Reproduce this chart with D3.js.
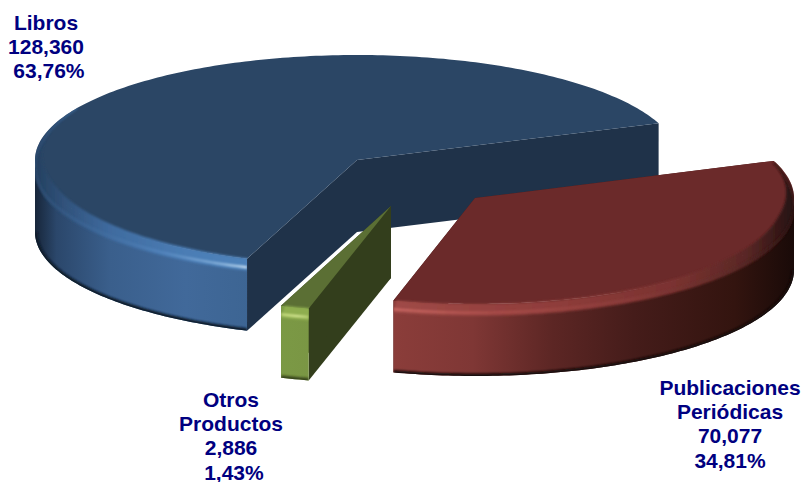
<!DOCTYPE html>
<html>
<head>
<meta charset="utf-8">
<script src="https://cdn.jsdelivr.net/npm/d3@7"></script>
<style>
  html, body { margin: 0; background: #fff; overflow: hidden; }
  text { font-family: "Liberation Sans", Arial, sans-serif; font-weight: bold; font-size: 21px; fill: #000080; white-space: pre; }
</style>
</head>
<body>
<svg id="chart" width="804" height="482"></svg>
<script>
// data, in drawing order round the pie (clockwise from the cut at the right)
const categories = ["Publicaciones Periódicas", "Otros Productos", "Libros"];
const values = [70077, 2886, 128360];
const percents = ["34,81%", " 1,43%", " 63,76%"];
const nameLines = [["Publicaciones", "Periódicas"], ["Otros", "Productos"], ["Libros"]];

const width = 804, height = 482;
const rad = d3.scaleLinear().domain([0, 180]).range([0, Math.PI]);
const depth = 72, lip = 12, inset = 11;

// where each exploded slice sits and how it is shaded
const layout = {
    "Libros": {
        cx: 357, cy: 160, rx: 322, ry: 105, order: 0,
        face: "#2b4665", cut: "#1f3249", dark: "#0e1a2a",
        x1: 35, x2: 250,
        wall: [[0, "#17263a"], [0.1, "#2b476b"], [0.35, "#3a5f8c"], [0.7, "#41699a"], [1, "#3d6593"]],
        band: [[0, "#24405f"], [0.12, "#2f5078"], [0.35, "#3f6b9f"], [0.7, "#4b7db5"], [1, "#4f83bb"]],
        shine: [[0, "#2c4b70"], [0.2, "#3a6291"], [0.6, "#5486bf"], [0.87, "#8db7df"], [1, "#dcecf8"]],
        label: { x: 46, y: 30 }
    },
    "Publicaciones Periódicas": {
        cx: 475, cy: 198, rx: 319, ry: 106, order: 1,
        face: "#6b2a2a", cut: "#4a1d1b", dark: "#150807",
        x1: 392, x2: 795,
        wall: [[0, "#8b3d3a"], [0.2, "#7f3735"], [0.4, "#5c2624"], [0.6, "#451c1a"], [0.85, "#33140f"], [1, "#190a08"]],
        band: [[0, "#a04a47"], [0.4, "#8f3d3b"], [0.7, "#7a3230"], [0.88, "#592725"], [1, "#241010"]],
        shine: [[0, "#cf6b66"], [0.25, "#ad4f4b"], [0.6, "#8a3c3a"], [0.85, "#5a2a28"], [1, "#2e1412"]],
        label: { x: 730, y: 395 }
    },
    "Otros Productos": {
        cx: 391, cy: 206, rx: 322, ry: 106, order: 2,
        face: "#5b6f34", cut: "#333e1c", dark: "#38451c",
        x1: 279, x2: 312,
        wall: [[0, "#7b9945"], [1, "#7a9644"]],
        band: [[0, "#8fae50"], [1, "#8fae50"]],
        shine: [[0, "#c4da78"], [0.6, "#dbeb9a"], [1, "#a9c463"]],
        label: { x: 231, y: 407 }
    }
};

// the lip round the front fades out towards the back of the pie
const lipAt = d3.scaleLinear().domain([60, 100, 255, 300]).range([0, 1, 1, 0]).clamp(true);

const pie = d3.pie().sort(null).value(d => d.value)
    .startAngle(rad(69.5)).endAngle(rad(429.5));
const slices = pie(categories.map((name, i) => ({ name, value: values[i], i })));

const svg = d3.select("#chart");
const defs = svg.append("defs");
const line = d3.line();

function addBlur(id, sd) {
    defs.append("filter").attr("id", id)
        .attr("filterUnits", "userSpaceOnUse")
        .attr("x", 0).attr("y", 0).attr("width", width).attr("height", height)
        .append("feGaussianBlur").attr("stdDeviation", sd);
}
addBlur("soft", 1.3);
addBlur("softer", 1);

function addGradient(id, x1, x2, stops) {
    const g = defs.append("linearGradient").attr("id", id)
        .attr("gradientUnits", "userSpaceOnUse")
        .attr("x1", x1).attr("x2", x2).attr("y1", 0).attr("y2", 0);
    g.selectAll("stop").data(stops).join("stop")
        .attr("offset", d => d[0]).attr("stop-color", d => d[1]);
}

function point(s, a, shrink = 0, dz = 0) {
    return [s.cx + (s.rx - shrink) * Math.sin(a), s.cy - s.ry * Math.cos(a) + dz];
}

function sweep(a0, a1) {
    const n = Math.max(2, Math.ceil(Math.abs(a1 - a0) / rad(1)));
    return d3.range(n + 1).map(k => a0 + (a1 - a0) * k / n);
}

// back slice first, the exploded ones sit over it
slices.slice().sort((a, b) => layout[a.data.name].order - layout[b.data.name].order).forEach(d => {
    const s = layout[d.data.name];
    const id = "s" + d.data.i;
    const a0 = d.startAngle, a1 = d.endAngle;
    const front = sweep(Math.max(a0, rad(90)), Math.min(a1, rad(270)));
    const lipOf = a => lipAt(a * 180 / Math.PI);

    addGradient(id + "wall", s.x1, s.x2, s.wall);
    addGradient(id + "band", s.x1, s.x2, s.band);
    addGradient(id + "shine", s.x1, s.x2, s.shine);

    const g = svg.append("g").attr("class", "slice");
    const apex = [s.cx, s.cy];

    const sector = line([apex, ...sweep(a0, a1).map(a => point(s, a))]) + "Z";
    const wall = line([
        ...front.map(a => point(s, a)),
        ...front.slice().reverse().map(a => point(s, a, 0, depth))
    ]) + "Z";

    // cut faces first, the wall and the top then cover whichever face is hidden
    [a0, a1].forEach(a => {
        const p = point(s, a);
        g.append("path")
            .attr("d", line([apex, p, [p[0], p[1] + depth], [apex[0], apex[1] + depth]]) + "Z")
            .attr("fill", s.cut);
    });

    g.append("path").attr("d", wall).attr("fill", `url(#${id}wall)`);
    g.append("path").attr("d", sector).attr("fill", s.face);

    const clip = defs.append("clipPath").attr("id", id + "clip");
    clip.append("path").attr("d", sector);
    clip.append("path").attr("d", wall);

    const fx = g.append("g").attr("clip-path", `url(#${id}clip)`);
    const lipSweep = sweep(a0, a1).filter(a => lipOf(a) > 0);

    // rounded lip: between the inset edge of the top and the top of the wall
    fx.append("path")
        .attr("d", line([
            ...lipSweep.map(a => point(s, a, inset * lipOf(a), 0)),
            ...lipSweep.slice().reverse().map(a => point(s, a, 0, lip * lipOf(a)))
        ]) + "Z")
        .attr("fill", `url(#${id}band)`)
        .attr("filter", "url(#soft)");

    fx.append("path")
        .attr("d", line(lipSweep.map(a => point(s, a, 0, lip * 0.72 * lipOf(a)))))
        .attr("fill", "none")
        .attr("stroke", `url(#${id}shine)`)
        .attr("stroke-width", 2.2)
        .attr("filter", "url(#softer)");

    // soft dark edge under the wall
    fx.append("path")
        .attr("d", line(front.map(a => point(s, a, 0, depth))))
        .attr("fill", "none")
        .attr("stroke", s.dark)
        .attr("stroke-width", 5)
        .attr("filter", "url(#soft)");
});

// labels
slices.forEach(d => {
    const s = layout[d.data.name];
    const lines = [...nameLines[d.data.i], d3.format(",")(d.data.value), percents[d.data.i]];
    svg.append("text")
        .attr("text-anchor", "middle")
        .selectAll("tspan").data(lines).join("tspan")
        .attr("x", s.label.x)
        .attr("y", (t, i) => s.label.y + i * 24.2)
        .text(t => t);
});
</script>
</body>
</html>
